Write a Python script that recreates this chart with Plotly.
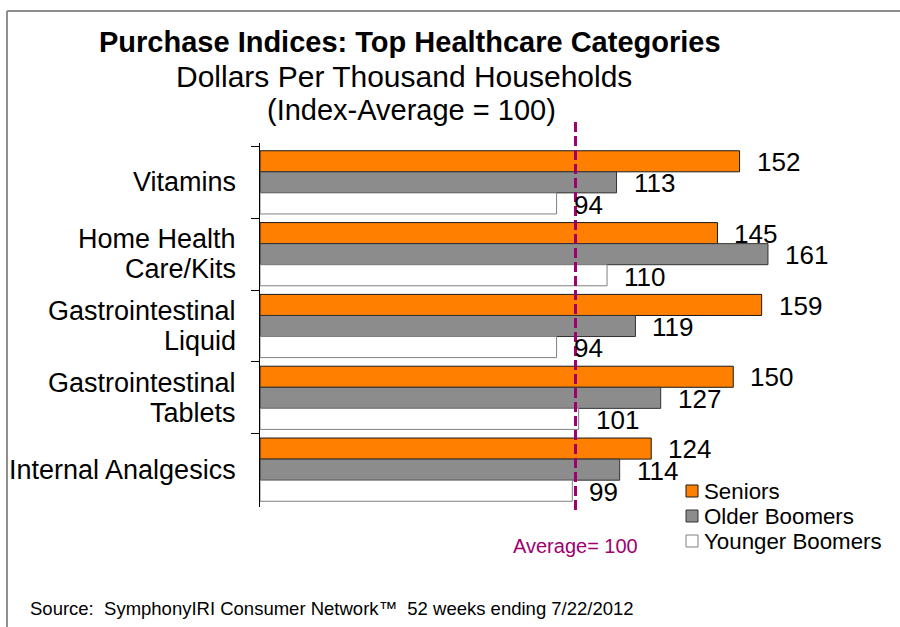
import plotly.graph_objects as go

# ---- data ----
categories = ["Vitamins", "Home Health Care/Kits", "Gastrointestinal Liquid",
              "Gastrointestinal Tablets", "Internal Analgesics"]
category_labels = ["Vitamins", "Home Health<br>Care/Kits", "Gastrointestinal<br>Liquid",
                   "Gastrointestinal<br>Tablets", "Internal Analgesics"]
series_names = ["Seniors", "Older Boomers", "Younger Boomers"]
seniors = [152, 145, 159, 150, 124]
older_boomers = [113, 161, 119, 127, 114]
younger_boomers = [94, 110, 94, 101, 99]
average_value = 100

title = "Purchase Indices: Top Healthcare Categories"
subtitle1 = "Dollars Per Thousand Households"
subtitle2 = "(Index-Average = 100)"
average_label = "Average= 100"
source = "Source:\u00a0\u00a0SymphonyIRI Consumer Network\u2122\u00a0\u00a052 weeks ending 7/22/2012"

# ---- style ----
FONT = "Liberation Sans, Arial, sans-serif"
fills = ["#FF7F00", "#8C8C8C", "#FFFFFF"]
edges = ["#1A1A1A", "#333333", "#808080"]
AVG_COLOR = "#A0006E"

W, H = 900, 627
L, R, T, B = 260, 9, 143, 120
XMAX = 200
BARGAP = 0.12
LABEL_LINE_GAP = 30
LEGEND_STEP = 25
plot_w = W - L - R
plot_h = H - T - B
cat_h = plot_h / len(categories)
bar_h = cat_h * (1 - BARGAP) / 3


def px_x(px):
    return (px - L) / plot_w


def px_y(py):
    return (H - B - py) / plot_h


series_values = [seniors, older_boomers, younger_boomers]

fig = go.Figure()
for name, vals, fc, ec in zip(series_names, series_values, fills, edges):
    fig.add_trace(go.Bar(
        name=name, x=vals, y=categories, orientation="h",
        marker=dict(color=fc, line=dict(color=ec, width=1)),
        showlegend=False, hoverinfo="x+y",
    ))

annotations = []
# category labels (custom line spacing)
for cat, lab in zip(categories, category_labels):
    lines = lab.split("<br>")
    n = len(lines)
    for j, line in enumerate(lines):
        annotations.append(dict(
            x=px_x(238), y=cat, xref="paper", yref="y", text=line, showarrow=False,
            xanchor="right", yanchor="middle",
            yshift=((n - 1) / 2 - j) * LABEL_LINE_GAP,
            font=dict(family=FONT, size=27, color="#000000")))

# value labels
for i, vals in enumerate(series_values):
    shift = (1 - i) * bar_h
    for cat, v in zip(categories, vals):
        annotations.append(dict(
            x=v, y=cat, xref="x", yref="y", text=str(v), showarrow=False,
            xanchor="left", yanchor="middle", xshift=15, yshift=shift - 1,
            font=dict(family=FONT, size=26, color="#000000")))

# titles
annotations += [
    dict(x=px_x(410), y=px_y(42), xref="paper", yref="paper", text="<b>" + title + "</b>",
         showarrow=False, xanchor="center", yanchor="middle",
         font=dict(family=FONT, size=29, color="#000000")),
    dict(x=px_x(404), y=px_y(76), xref="paper", yref="paper", text=subtitle1,
         showarrow=False, xanchor="center", yanchor="middle",
         font=dict(family=FONT, size=30, color="#000000")),
    dict(x=px_x(411), y=px_y(110), xref="paper", yref="paper", text=subtitle2,
         showarrow=False, xanchor="center", yanchor="middle",
         font=dict(family=FONT, size=29, color="#000000")),
    dict(x=average_value, y=px_y(546), xref="x", yref="paper", text=average_label,
         showarrow=False, xanchor="center", yanchor="middle",
         font=dict(family=FONT, size=20, color=AVG_COLOR)),
    dict(x=px_x(28), y=px_y(608), xref="paper", yref="paper", text=source,
         showarrow=False, xanchor="left", yanchor="middle",
         font=dict(family=FONT, size=18.5, color="#000000")),
]

shapes = []
# manual legend
for i, (name, fc, ec) in enumerate(zip(series_names, fills, edges)):
    cy = 491 + i * LEGEND_STEP
    shapes.append(dict(type="rect", xref="paper", yref="paper",
                       x0=px_x(686), x1=px_x(698), y0=px_y(cy - 6), y1=px_y(cy + 6),
                       fillcolor=fc, line=dict(color=ec, width=1)))
    annotations.append(dict(x=px_x(702), y=px_y(cy), xref="paper", yref="paper",
                            text=name, showarrow=False, xanchor="left", yanchor="middle",
                            font=dict(family=FONT, size=22.3, color="#000000")))

# average line
shapes.append(dict(type="line", xref="x", yref="paper", x0=average_value, x1=average_value,
                   y0=px_y(122), y1=px_y(513),
                   line=dict(color=AVG_COLOR, width=3, dash="10px,4px")))
# slide border
shapes.append(dict(type="line", xref="paper", yref="paper", x0=px_x(7), x1=px_x(900),
                   y0=px_y(11), y1=px_y(11), line=dict(color="#8F8F8F", width=2)))
shapes.append(dict(type="line", xref="paper", yref="paper", x0=px_x(7), x1=px_x(7),
                   y0=px_y(11), y1=px_y(627), line=dict(color="#8F8F8F", width=2)))

fig.update_layout(
    width=W, height=H,
    margin=dict(l=L, r=R, t=T, b=B, pad=0),
    paper_bgcolor="white", plot_bgcolor="white",
    barmode="group", bargap=BARGAP, bargroupgap=0,
    showlegend=False,
    annotations=annotations, shapes=shapes,
    font=dict(family=FONT, color="#000000"),
    xaxis=dict(range=[0, XMAX], visible=False, fixedrange=True),
    yaxis=dict(
        autorange="reversed", type="category",
        showticklabels=False,
        showline=True, linecolor="#000000", linewidth=1,
        ticks="outside", tickson="boundaries", ticklen=8, tickcolor="#000000",
        showgrid=False, zeroline=False, fixedrange=True,
    ),
)

fig.write_html(
    "out.html",
    config={"displayModeBar": False},
    post_script="document.body.style.margin='0';document.body.style.overflow='hidden';",
)
